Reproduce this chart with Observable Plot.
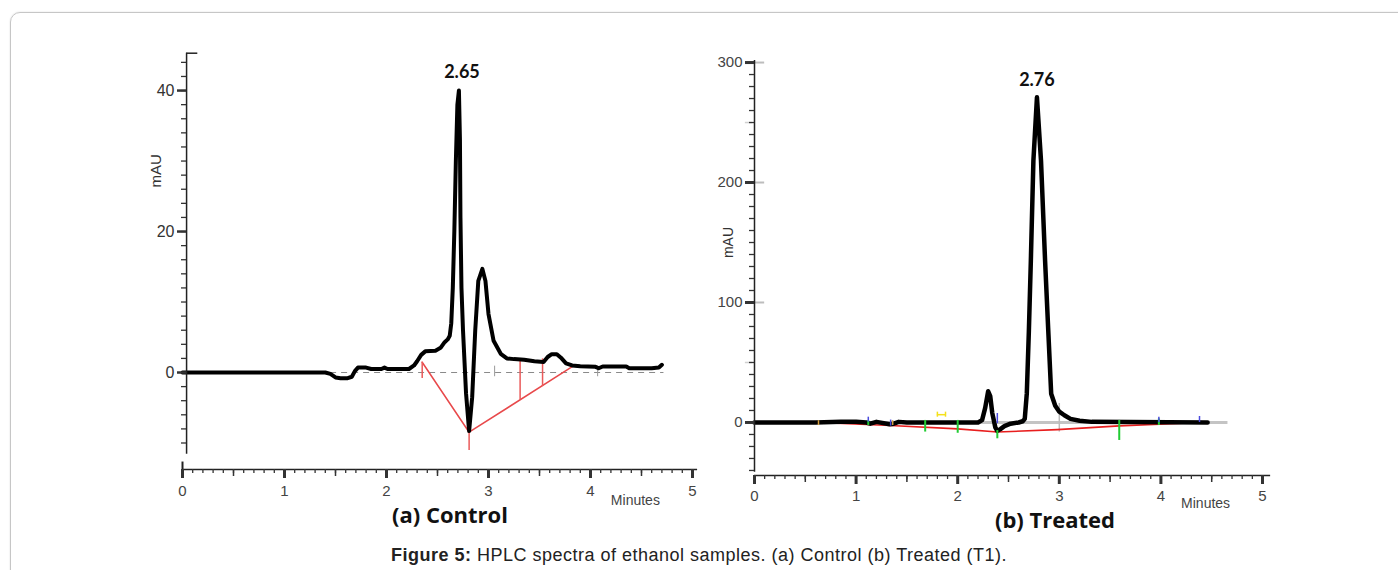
<!DOCTYPE html>
<html>
<head>
<meta charset="utf-8">
<script src="https://cdn.jsdelivr.net/npm/d3@7"></script>
<script src="https://cdn.jsdelivr.net/npm/@observablehq/plot@0.6"></script>
<style>
  html, body { margin: 0; padding: 0; background: #fff; }
  #page { position: relative; width: 1398px; height: 570px; overflow: hidden; font-family: "Liberation Sans", Arial, sans-serif; }
  #frame { position: absolute; left: 10px; top: 12px; width: 1420px; height: 600px; border: 1px solid #c6c6c6; border-radius: 10px; box-shadow: 0 0 2px #ddd; }
  #left { position: absolute; left: 0; top: 0; }
  #right { position: absolute; left: 700px; top: 0; }
  .sub { position: absolute; font-family: "Open Sans", Lato, sans-serif; font-weight: 700; font-size: 22px; line-height: 18px; color: #111; transform: translateX(-50%); white-space: nowrap; }
  #caption { position: absolute; left: 699px; top: 545px; transform: translateX(-50%); white-space: nowrap; font-family: "Liberation Sans", Arial, sans-serif; font-size: 18px; letter-spacing: 0.5px; line-height: 20px; color: #222; }
</style>
</head>
<body>
<div id="page">
  <div id="frame"></div>
  <div id="left"></div>
  <div id="right"></div>
  <div class="sub" id="subA" style="left:450px; top:505px;">(a) Control</div>
  <div class="sub" id="subB" style="left:1055px; top:510px;">(b) Treated</div>
  <div id="caption"><b>Figure 5:</b> HPLC spectra of ethanol samples. (a) Control (b) Treated (T1).</div>
</div>
<script>
// ---------- data: (a) Control ----------
const controlTime = [0, 1.40, 1.45, 1.50, 1.55, 1.62, 1.66, 1.69, 1.72, 1.80, 1.85, 1.95, 1.98, 2.01, 2.10, 2.22, 2.27, 2.30, 2.34, 2.38, 2.48, 2.53, 2.57, 2.60, 2.62, 2.635, 2.65, 2.665, 2.68, 2.695, 2.71, 2.72, 2.725, 2.735, 2.75, 2.78, 2.81, 2.84, 2.87, 2.90, 2.94, 2.97, 3.00, 3.05, 3.12, 3.18, 3.25, 3.35, 3.45, 3.54, 3.58, 3.62, 3.67, 3.71, 3.76, 3.82, 3.90, 4.05, 4.08, 4.12, 4.35, 4.38, 4.60, 4.67, 4.70];
const controlMAU  = [0, 0, -0.2, -0.7, -0.8, -0.8, -0.6, 0.2, 0.7, 0.7, 0.5, 0.5, 0.7, 0.5, 0.5, 0.5, 1.0, 1.6, 2.5, 3.0, 3.1, 3.5, 4.3, 4.7, 5.2, 7, 12, 20, 30, 38, 40, 33, 22, 12, 6, -3, -8.3, -3.5, 6, 13, 14.7, 13, 8.3, 4.5, 2.65, 2.0, 1.9, 1.8, 1.6, 1.5, 2.2, 2.6, 2.6, 2.1, 1.3, 1.0, 0.9, 0.8, 0.6, 0.85, 0.85, 0.6, 0.6, 0.7, 1.1];
// integration baseline (red) and drop lines
const controlBaseTime = [2.35, 2.81, 3.84];
const controlBaseMAU  = [1.46, -8.47, 1.0];
const controlDropTime   = [2.35, 2.81, 3.31, 3.53];
const controlDropTop    = [1.46, -8.47, 1.94, 1.94];
const controlDropBottom = [-0.85, -11.06, -3.9, -2.0];
const controlPeakLabel = ["2.65"];
const controlPeakTime = [2.74];
const controlPeakMAU = [42.6];

// ---------- data: (b) Treated ----------
const treatedTime = [0, 0.60, 0.85, 1.00, 1.10, 1.14, 1.20, 1.33, 1.37, 1.42, 1.50, 2.20, 2.24, 2.27, 2.30, 2.32, 2.34, 2.37, 2.39, 2.42, 2.46, 2.52, 2.60, 2.64, 2.66, 2.68, 2.70, 2.72, 2.745, 2.78, 2.82, 2.86, 2.89, 2.92, 2.96, 3.00, 3.05, 3.11, 3.20, 3.32, 4.46];
const treatedMAU  = [0, 0, 0.5, 0.5, 0, -1, 0.5, -1.5, -1, 0.5, 0, 0, 2, 12, 26, 22, 8, -4, -7, -5.5, -3, -1, 0, 1, 3, 24, 75, 135, 218, 271, 218, 135, 79, 24, 14, 9, 6, 3, 1.5, 0.5, 0];
const treatedBaseTime = [0.63, 1.34, 2.0, 2.39, 2.98, 3.59, 4.39];
const treatedBaseMAU  = [0, -2.5, -5.3, -8, -6, -2.8, 0];
const greenTime   = [1.12, 1.68, 2.0, 2.39, 3.59, 3.98];
const greenTop    = [1.7, 1.7, 1.7, -6.7, 1.7, 3];
const greenBottom = [-2.5, -8, -9, -13.6, -15, -2.5];
const blueTime   = [1.12, 1.34, 2.39, 3.98, 4.38];
const blueTop    = [4.4, 2, 7.5, 4.4, 5];
const blueBottom = [0.3, -3, -1, 0, 0];
const orangeTime = [0.63, 1.36];
const treatedPeakLabel = ["2.76"];
const treatedPeakTime = [2.78];
const treatedPeakMAU = [285];

// ---------- axis ticks ----------
const xMajor = [0, 1, 2, 3, 4, 5];
const xHalf = [0.5, 1.5, 2.5, 3.5, 4.5];
const xMinor = d3.range(0, 51).map(i => i / 10);
const leftYMajor = [0, 20, 40];
const leftYMinor = d3.range(-10, 46, 2);
const rightYMajor = [0, 100, 200, 300];
const rightYMinor = d3.range(-40, 301, 10);

const fontAxis = "Liberation Sans, Arial, sans-serif";
const blank = () => "";
const plain = d => `${d}`;

// ---------- left chart ----------
const left = Plot.plot({
  width: 700, height: 510,
  marginLeft: 182, marginRight: 8, marginTop: 52, marginBottom: 41,
  x: {domain: [0, 5], label: null},
  y: {domain: [-13.76, 45.4], label: null},
  style: {fontFamily: fontAxis, color: "#333", background: "transparent", overflow: "visible"},
  marks: [
    Plot.ruleY([0], {x1: 0.05, x2: 4.72, stroke: "#8a8a8a", strokeWidth: 1.2, strokeDasharray: "6,5"}),
    Plot.ruleX([3.06, 4.07], {y1: 0.9, y2: -0.6, stroke: "#999", strokeWidth: 1}),
    Plot.line(controlBaseTime, {x: d => d, y: (d, i) => controlBaseMAU[i], stroke: "#e8494b", strokeWidth: 1.5}),
    Plot.ruleX(controlDropTime, {x: d => d, y1: (d, i) => controlDropTop[i], y2: (d, i) => controlDropBottom[i], stroke: "#ea5a5a", strokeWidth: 1.5}),
    Plot.line(controlTime, {x: d => d, y: (d, i) => controlMAU[i], stroke: "#000", strokeWidth: 4, strokeLinejoin: "round"}),
    Plot.ruleY([-13.76], {x1: 0, x2: 5.05, stroke: "#222", strokeWidth: 1.5}),
    Plot.ruleX([0], {y1: -13.76, y2: -12.7, stroke: "#222", strokeWidth: 2}),
    Plot.axisX({ticks: xMinor, tickSize: 4, tickFormat: blank, label: null, strokeWidth: 1.3}),
    Plot.axisX({ticks: xHalf, tickSize: 7, tickFormat: blank, label: null, strokeWidth: 1.5}),
    Plot.axisX({ticks: xMajor, tickSize: 9, strokeWidth: 3, tickPadding: 7, fontSize: 15, tickFormat: plain, label: null, fill: "#444"}),
    Plot.ruleX([0.04], {y1: -11.6, y2: 45.3, stroke: "#222", strokeWidth: 1.5}),
    Plot.ruleY([45.3], {x1: 0.04, x2: 0.15, stroke: "#222", strokeWidth: 1.5}),
    Plot.axisY({ticks: leftYMinor, tickSize: 5, dx: 4, tickFormat: blank, label: null, strokeWidth: 1.3}),
    Plot.axisY({ticks: leftYMajor, tickSize: 9, dx: 4, tickPadding: 3, strokeWidth: 2.5, fontSize: 16, tickFormat: plain, label: null}),
    Plot.text(["mAU"], {x: -0.26, y: 28.6, rotate: -90, fontSize: 15, fill: "#333"}),
    Plot.text(["Minutes"], {x: 4.44, y: -18.1, fontSize: 14, fill: "#444", letterSpacing: "-0.6px"}),
    Plot.text(controlPeakLabel, {x: () => controlPeakTime[0], y: () => controlPeakMAU[0], fontSize: 18, fontWeight: 700, fontFamily: "Lato, sans-serif", fill: "#111"})
  ]
});
document.getElementById("left").appendChild(left);

// ---------- right chart ----------
const right = Plot.plot({
  width: 698, height: 510,
  marginLeft: 54, marginRight: 136, marginTop: 60, marginBottom: 35,
  x: {domain: [0, 5], label: null},
  y: {domain: [-44.2, 301.7], label: null},
  style: {fontFamily: fontAxis, color: "#333", background: "transparent", overflow: "visible"},
  marks: [
    Plot.ruleY([0], {x1: 0, x2: 4.66, stroke: "#c4c4c4", strokeWidth: 3}),
    Plot.ruleX([3.0], {y1: 15.8, y2: -8, stroke: "#bbb", strokeWidth: 1.5}),
    Plot.ruleY([100, 200, 300], {x1: 0, x2: 0.1, stroke: "#bdbdbd", strokeWidth: 2}),
    Plot.ruleY([50, 250], {x1: -0.09, x2: -0.02, stroke: "#d0d0d0", strokeWidth: 1.5}),
    Plot.line(treatedBaseTime, {x: d => d, y: (d, i) => treatedBaseMAU[i], stroke: "#e81e1e", strokeWidth: 1.6}),
    Plot.line(treatedTime, {x: d => d, y: (d, i) => treatedMAU[i], stroke: "#000", strokeWidth: 4.5, strokeLinejoin: "round"}),
    Plot.ruleX(greenTime, {x: d => d, y1: (d, i) => greenTop[i], y2: (d, i) => greenBottom[i], stroke: "#22cc33", strokeWidth: 2}),
    Plot.ruleX(blueTime, {x: d => d, y1: (d, i) => blueTop[i], y2: (d, i) => blueBottom[i], stroke: "#4a4adf", strokeWidth: 1.5}),
    Plot.ruleX(orangeTime, {x: d => d, y1: 1.5, y2: -2.5, stroke: "#d8a040", strokeWidth: 1.5}),
    Plot.ruleX([1.80, 1.88], {y1: 4.4, y2: 8.6, stroke: "#f4e01a", strokeWidth: 1.5}),
    Plot.ruleY([6.5], {x1: 1.80, x2: 1.88, stroke: "#f4e01a", strokeWidth: 1.5}),
    Plot.ruleY([-44.2], {x1: 0, x2: 5.08, stroke: "#222", strokeWidth: 1.5}),
    Plot.axisX({ticks: xMinor, tickSize: 4, tickFormat: blank, label: null, strokeWidth: 1.3}),
    Plot.axisX({ticks: xHalf, tickSize: 7, tickFormat: blank, label: null, strokeWidth: 1.5}),
    Plot.axisX({ticks: xMajor, tickSize: 9, strokeWidth: 3, tickPadding: 6, fontSize: 15, tickFormat: plain, label: null, fill: "#444"}),
    Plot.ruleX([0], {y1: -41.4, y2: 301.7, stroke: "#222", strokeWidth: 1.5}),
    Plot.axisY({ticks: rightYMinor, tickSize: 5, tickFormat: blank, label: null, strokeWidth: 1.3}),
    Plot.axisY({ticks: rightYMajor, tickSize: 9, tickPadding: 3, strokeWidth: 3, fontSize: 15, tickFormat: plain, label: null, fill: "#444"}),
    Plot.text(["mAU"], {x: -0.26, y: 150, rotate: -90, fontSize: 14, fill: "#333"}),
    Plot.text(["Minutes"], {x: 4.44, y: -67.5, fontSize: 14, fill: "#444", letterSpacing: "-0.6px"}),
    Plot.text(treatedPeakLabel, {x: () => treatedPeakTime[0], y: () => treatedPeakMAU[0], fontSize: 18, fontWeight: 700, fontFamily: "Lato, sans-serif", fill: "#111"})
  ]
});
document.getElementById("right").appendChild(right);
</script>
</body>
</html>
